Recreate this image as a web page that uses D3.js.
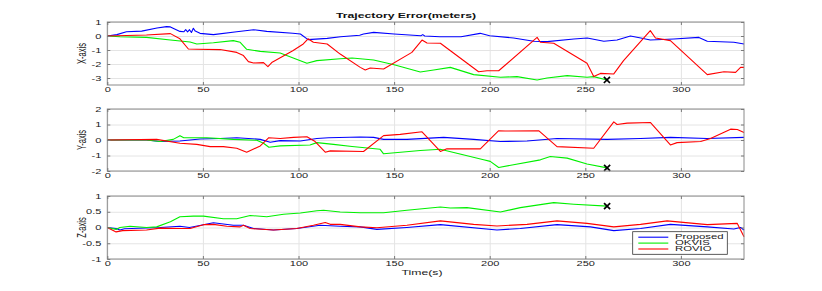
<!DOCTYPE html>
<html lang="en">

<head>
    <meta charset="UTF-8">
    <title>Trajectory Error</title>
    <style>
        body {
            margin: 0;
            background: #fff;
        }

        svg {
            display: block;
            font-family: "Liberation Sans", Arial, sans-serif;
        }

        .grid line {
            stroke: #e4e4e4;
            stroke-width: 1;
        }

        .ticks line {
            stroke: #7a7a7a;
        }

        .ticks text {
            fill: #222;
            font-size: 6.3px;
        }
    </style>
    <script src="https://d3js.org/d3.v7.min.js"></script>
</head>

<body>
    <svg width="822" height="291"></svg>

    <script>
        // ---- data: [time (s), error (m)] ----
        const xTicks = [0, 50, 100, 150, 200, 250, 300];
        const seriesNames = ["Proposed", "OKVIS", "ROVIO"];
        const seriesColors = ["#0000ff", "#00f000", "#ff0000"];

        // X-axis panel
        const xProposed = [[0, 0], [5, 0.1], [10, 0.3], [18, 0.35], [26, 0.57], [31, 0.67], [33, 0.65], [38, 0.33], [40, 0.3], [41, 0.45], [42, 0.3], [43, 0.45], [44, 0.25], [45, 0.55], [46, 0.35], [48.5, 0.19], [55.5, 0.1], [67.7, 0.3], [76.5, 0.45], [83.4, 0.33], [97, 0.2], [101, 0.14], [105, -0.26], [115, -0.17], [122, -0.05], [132, 0.05], [134, 0.14], [139.3, 0.26], [150, 0.14], [164, 0.02], [165, 0.1], [166, 0], [174, -0.05], [185, -0.05], [195, 0.19], [200, 0.02], [212.5, -0.14], [223, -0.38], [230, -0.4], [244, -0.21], [251, -0.14], [259.7, -0.38], [266.6, -0.29], [273.6, 0], [279, -0.14], [284, -0.29], [296.3, -0.21], [309.4, -0.1], [313.8, -0.38], [327.7, -0.45], [333, -0.57]];
        const xOkvis = [[0, 0], [6.6, -0.05], [20.5, -0.1], [33, -0.29], [43.3, -0.43], [46.8, -0.57], [55.5, -0.48], [65.9, -0.33], [69.5, -0.45], [72.9, -0.95], [80, -1.1], [90.4, -1.21], [104.4, -1.95], [109.6, -1.76], [121.8, -1.62], [128, -1.57], [139.3, -1.71], [150, -2.05], [163.7, -2.57], [170.7, -2.43], [179.4, -2.24], [191.6, -2.76], [205.6, -2.95], [214.3, -2.9], [224.8, -3.14], [230, -3.0], [240.5, -2.83], [250.9, -2.95], [254.4, -2.9], [261.3, -3.14]];
        const xRovio = [[0, 0], [20.5, 0.07], [33, 0.17], [38, -0.2], [42.4, -0.93], [46.8, -0.95], [59, -0.97], [67.7, -1.17], [71.2, -1.4], [73.8, -1.83], [76.5, -1.93], [81.7, -1.9], [84, -2.19], [86, -1.9], [97, -1.05], [102.5, -0.57], [105, -0.2], [107.8, -0.45], [115, -0.57], [121.8, -1.29], [132.3, -2.24], [134.9, -2.43], [137.5, -2.29], [144.5, -2.36], [159.3, -1.17], [164.6, -0.29], [167.2, -0.5], [174.2, -0.52], [194.2, -2.55], [198.6, -2.48], [204.7, -2.48], [224.8, -0.1], [226.5, -0.45], [233.5, -0.52], [250.9, -1.95], [254.4, -2.9], [257.9, -2.67], [264.9, -2.71], [270, -1.76], [284, 0.38], [286.7, -0.14], [294.5, -0.33], [313.8, -2.76], [322.5, -2.55], [328.6, -2.6], [331.2, -2.24], [333, -2.24]];

        // Y-axis panel
        const yProposed = [[0, 0], [20.5, 0], [27.6, -0.1], [38, -0.06], [48.5, 0.06], [59, 0.1], [67.7, 0.15], [80, 0.04], [85.2, -0.15], [90.4, -0.04], [101, -0.06], [109.6, 0.1], [115.7, 0.15], [132.3, 0.19], [139.3, 0.17], [144.5, 0.04], [156.7, 0.04], [175.9, 0.17], [191.6, 0.04], [205.6, -0.1], [219.5, -0.06], [235.2, 0.1], [261.4, 0.04], [278.9, 0.1], [294.5, 0.17], [313.8, 0.1], [333, 0.17]];
        const yOkvis = [[0, 0], [20.5, 0], [27.6, -0.1], [34.5, 0.04], [38, 0.28], [40, 0.15], [52, 0.15], [65.9, 0.04], [78.2, -0.02], [81.7, -0.21], [84.5, -0.47], [90.4, -0.38], [106, -0.32], [109.6, -0.17], [118.3, -0.28], [128, -0.42], [142.7, -0.6], [144.5, -0.89], [163.7, -0.68], [174.2, -0.6], [196.8, -1.28], [200.3, -1.38], [204.7, -1.77], [226.5, -1.28], [231.7, -1.06], [240.5, -1.17], [250.9, -1.55], [261.4, -1.8]];
        const yRovio = [[0, 0], [25.8, 0.04], [38, -0.21], [46.8, -0.28], [53.8, -0.43], [60.7, -0.43], [67.7, -0.53], [72.9, -0.79], [80, -0.38], [84.5, 0.15], [90.4, 0.1], [97.4, 0.17], [104.4, 0.21], [108.7, -0.1], [114, -0.79], [116.6, -0.7], [134, -0.74], [144.5, 0.28], [153.2, 0.36], [164.6, 0.53], [174.2, -0.74], [177.6, -0.57], [195.1, -0.57], [204.7, 0.6], [208, 0.58], [225.6, 0.6], [235.2, -0.43], [254.4, -0.53], [264.9, 1.17], [266.6, 1.0], [271.9, 1.09], [284, 1.13], [294.5, -0.32], [298, -0.17], [310.3, -0.1], [315.5, 0.1], [326, 0.7], [329.5, 0.68], [333, 0.49]];

        // Z-axis panel
        const zProposed = [[0, 0], [4.6, -0.03], [6.6, -0.08], [9, -0.04], [27.6, 0], [38, 0.04], [43, 0], [50.3, 0.09], [55.5, 0.15], [65.9, 0.07], [71.2, 0.07], [76.5, -0.03], [86.9, -0.08], [99.1, -0.03], [111.3, 0.07], [121.8, 0.04], [132.3, 0.02], [141, -0.06], [156.7, 0], [174.2, 0.09], [203.8, -0.08], [216, -0.03], [235.2, 0.09], [252.7, 0.02], [264.9, -0.1], [278.9, -0.03], [294.5, 0.1], [313.8, 0.02], [327.7, -0.05], [331.2, 0], [333, -0.08]];
        const zOkvis = [[0, 0], [4.6, -0.06], [6.6, 0], [11.9, 0.04], [20.5, 0], [25.8, 0.02], [33, 0.18], [38, 0.34], [45, 0.36], [50.3, 0.36], [60.7, 0.28], [67.7, 0.28], [74.7, 0.38], [83.4, 0.34], [92.2, 0.42], [101, 0.46], [109.6, 0.53], [113.1, 0.55], [121.8, 0.49], [132.3, 0.47], [144.5, 0.47], [156.7, 0.55], [174.2, 0.65], [179.4, 0.62], [188.1, 0.63], [205.6, 0.49], [216, 0.63], [233.5, 0.79], [244, 0.74], [261.4, 0.68]];
        const zRovio = [[0, 0], [4.6, -0.14], [8, -0.1], [20.5, -0.08], [27.6, -0.02], [38, -0.03], [43.3, -0.03], [50.3, 0.09], [55.5, 0.1], [62.5, 0.04], [69.5, 0.02], [71.2, 0.07], [74.7, -0.03], [86.9, -0.08], [99.1, -0.03], [107.8, 0.07], [114, 0.16], [116.6, 0.1], [121.8, 0.1], [132.3, 0.02], [141, -0.01], [156.7, 0.07], [174.2, 0.21], [191.6, 0.1], [203.8, 0.05], [219.5, 0.1], [235.2, 0.21], [250.9, 0.13], [264.9, 0.02], [278.9, 0.1], [292.8, 0.21], [313.8, 0.09], [329.5, 0.13], [333, -0.29]];

        const panelLabels = ["X-axis", "Y-axis", "Z-axis"];
        const panelDomains = [[-3.5, 1], [-2, 2], [-1, 1]];
        const panelTicks = [[-3, -2, -1, 0, 1], [-2, -1, 0, 1, 2], [-1, -0.5, 0, 0.5, 1]];
        const panelSeries = [
            [xProposed, xOkvis, xRovio],
            [yProposed, yOkvis, yRovio],
            [zProposed, zOkvis, zRovio]
        ];

        // ---- layout ----
        const SX = 1.75; // the figure is stretched horizontally
        const left = 107.3, right = 744;
        const panelBox = [[22, 85], [109, 171], [196, 259]];

        const svg = d3.select("svg");

        const x = d3.scaleLinear().domain([0, 333]).range([left, right]);

        function stretched(sel, px, py, extra = "") {
            return sel.attr("transform", `translate(${px},${py}) scale(${SX},1) ${extra}`);
        }

        panelSeries.forEach((series, i) => {
            const [top, bottom] = panelBox[i];
            const y = d3.scaleLinear().domain(panelDomains[i]).range([bottom, top]);
            const g = svg.append("g");

            // grid
            g.append("g").attr("class", "grid")
                .attr("transform", `translate(0,${bottom})`)
                .call(d3.axisBottom(x).tickValues(xTicks).tickSize(-(bottom - top)).tickFormat(""))
                .call(a => a.select(".domain").remove());
            g.append("g").attr("class", "grid")
                .attr("transform", `translate(${left},0)`)
                .call(d3.axisLeft(y).tickValues(panelTicks[i]).tickSize(-(right - left)).tickFormat(""))
                .call(a => a.select(".domain").remove());

            // lines
            const line = d3.line().x(d => x(d[0])).y(d => y(d[1]));
            series.forEach((data, k) => {
                g.append("path")
                    .datum(data)
                    .attr("d", line)
                    .attr("fill", "none")
                    .attr("stroke", seriesColors[k])
                    .attr("stroke-width", 1.1)
                    .attr("stroke-linejoin", "round");
            });

            // end of OKVIS track
            const last = series[1][series[1].length - 1];
            g.append("path")
                .attr("d", d3.symbol().type(d3.symbolX).size(26)())
                .attr("transform", `translate(${x(last[0])},${y(last[1])})`)
                .attr("fill", "none")
                .attr("stroke", "#000")
                .attr("stroke-width", 1.7);

            // axes box
            g.append("rect")
                .attr("x", left).attr("y", top)
                .attr("width", right - left).attr("height", bottom - top)
                .attr("fill", "none").attr("stroke", "#8a8a8a").attr("stroke-width", 1);

            // ticks (inside) and labels
            const xa = g.append("g").attr("class", "ticks")
                .attr("transform", `translate(0,${bottom})`)
                .call(d3.axisBottom(x).tickValues(xTicks).tickSizeInner(-3).tickSizeOuter(0).tickPadding(2.8));
            xa.select(".domain").remove();
            xa.selectAll("text").attr("transform", `scale(${SX},1)`).attr("font-family", null);

            const ya = g.append("g").attr("class", "ticks")
                .attr("transform", `translate(${left},0)`)
                .call(d3.axisLeft(y).tickValues(panelTicks[i]).tickFormat(d => String(d))
                    .tickSizeInner(-3).tickSizeOuter(0).tickPadding(6));
            ya.select(".domain").remove();
            ya.selectAll("text").attr("x", -6 / SX).attr("transform", `scale(${SX},1)`).attr("font-family", null);

            g.append("g").attr("class", "ticks")
                .attr("transform", `translate(0,${top})`)
                .call(d3.axisTop(x).tickValues(xTicks).tickSizeInner(-3).tickSizeOuter(0).tickFormat(""))
                .call(a => a.select(".domain").remove());
            g.append("g").attr("class", "ticks")
                .attr("transform", `translate(${right},0)`)
                .call(d3.axisRight(y).tickValues(panelTicks[i]).tickSizeInner(-3).tickSizeOuter(0).tickFormat(""))
                .call(a => a.select(".domain").remove());

            // y label
            stretched(g.append("text"), 86, (top + bottom) / 2, "rotate(-90)")
                .attr("text-anchor", "middle")
                .attr("font-size", 7.5)
                .attr("fill", "#222")
                .text(panelLabels[i]);
        });

        // title and x label
        stretched(svg.append("text"), 406, 18.3)
            .attr("text-anchor", "middle")
            .attr("font-size", 7)
            .attr("font-weight", "bold")
            .attr("fill", "#111")
            .text("Trajectory Error(meters)");

        stretched(svg.append("text"), 422, 275)
            .attr("text-anchor", "middle")
            .attr("font-size", 7)
            .attr("fill", "#222")
            .text("Time(s)");

        // legend
        const legend = svg.append("g");
        legend.append("rect")
            .attr("x", 632.7).attr("y", 231.7)
            .attr("width", 94.6).attr("height", 22.6)
            .attr("fill", "#fff").attr("stroke", "#333").attr("stroke-width", 0.8);
        const rowY = d3.scalePoint().domain(seriesNames).range([237.2, 249]);
        seriesNames.forEach((name, k) => {
            legend.append("line")
                .attr("x1", 638.3).attr("x2", 668.3)
                .attr("y1", rowY(name)).attr("y2", rowY(name))
                .attr("stroke", seriesColors[k]).attr("stroke-width", 1.1);
            stretched(legend.append("text"), 675, rowY(name))
                .attr("dy", "0.35em")
                .attr("font-size", 6.5)
                .attr("fill", "#222")
                .text(name);
        });
    </script>
</body>

</html>
